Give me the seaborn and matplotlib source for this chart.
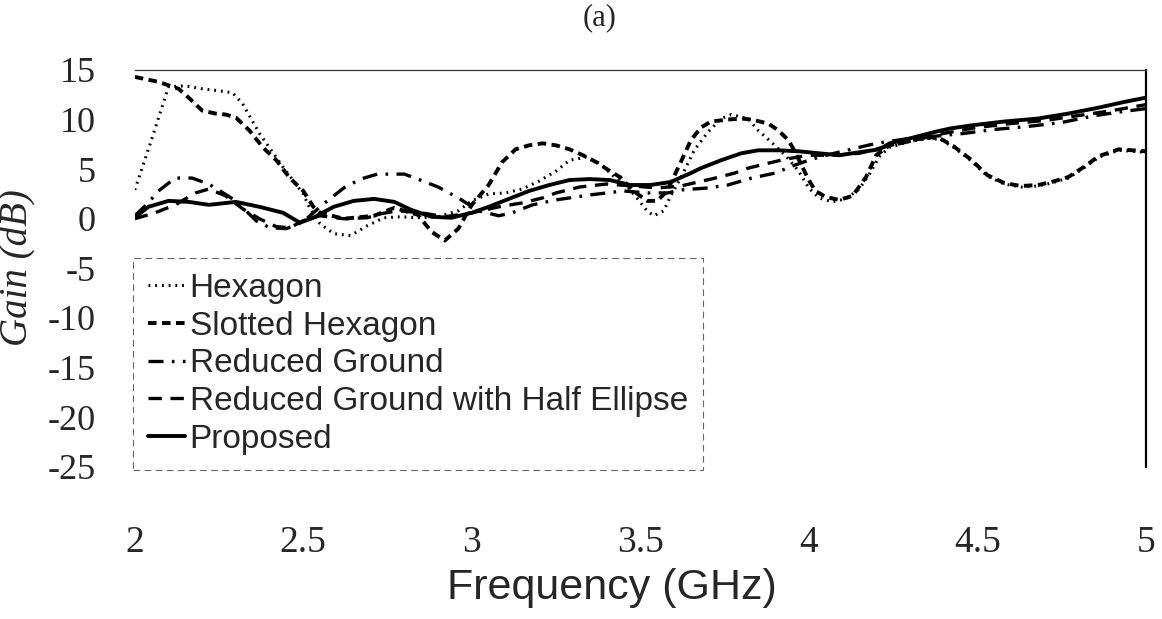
import matplotlib
matplotlib.use("Agg")
import matplotlib.pyplot as plt
import seaborn as sns
import pandas as pd

# Gain (dB) versus frequency (GHz) for the five antenna variants
hex_f = [2.00, 2.05, 2.10, 2.15, 2.20, 2.25, 2.29, 2.32, 2.37, 2.44, 2.50, 2.52, 2.55, 2.59,
         2.64, 2.69, 2.74, 2.79, 2.84, 2.90, 2.96, 3.00, 3.05, 3.10, 3.15, 3.20, 3.25, 3.29,
         3.34, 3.38, 3.42, 3.46, 3.49, 3.52, 3.54, 3.57, 3.59, 3.62, 3.66, 3.70, 3.74, 3.77,
         3.82, 3.85, 3.89, 3.93, 3.97, 4.00, 4.03, 4.07, 4.11, 4.15, 4.18, 4.21, 4.24, 4.30,
         4.36, 4.39, 4.43, 4.48, 4.53, 4.58, 4.63, 4.68, 4.72, 4.77, 4.82, 4.86, 4.92, 5.00]
hex_g = [2.9, 8.0, 13.3, 13.4, 13.1, 12.9, 12.7, 11.6, 8.6, 5.2, 2.5, 1.0, -0.5, -1.5,
         -1.7, -0.7, 0.1, 0.2, 0.1, 0.2, 0.8, 1.8, 2.5, 2.6, 3.0, 3.8, 4.8, 5.9,
         6.2, 5.6, 4.3, 3.3, 2.1, 0.8, 0.3, 0.8, 2.3, 4.1, 6.9, 8.7, 10.1, 10.5,
         10.1, 8.9, 7.7, 6.4, 4.8, 3.1, 2.1, 1.7, 2.0, 3.0, 4.5, 6.3, 7.2, 7.8,
         8.1, 8.0, 7.2, 5.9, 4.3, 3.5, 3.2, 3.3, 3.6, 4.1, 5.2, 6.2, 6.9, 6.7]

slot_f = [2.00, 2.07, 2.13, 2.16, 2.20, 2.24, 2.27, 2.30, 2.34, 2.38, 2.42, 2.46, 2.50, 2.53,
          2.55, 2.62, 2.71, 2.77, 2.84, 2.88, 2.92, 2.96, 3.00, 3.05, 3.09, 3.13, 3.17, 3.21,
          3.25, 3.29, 3.33, 3.37, 3.41, 3.44, 3.48, 3.52, 3.55, 3.58, 3.62, 3.65, 3.68, 3.71,
          3.76, 3.80, 3.83, 3.88, 3.91, 3.94, 3.96, 3.98, 4.00, 4.02, 4.05, 4.09, 4.13, 4.17,
          4.20, 4.24, 4.30, 4.36, 4.39, 4.43, 4.48, 4.53, 4.58, 4.63, 4.68, 4.72, 4.77, 4.82,
          4.86, 4.92, 5.00]
slot_g = [14.3, 13.8, 13.1, 12.2, 10.9, 10.6, 10.5, 10.2, 8.9, 7.2, 5.9, 4.1, 2.8, 1.2,
          0.6, 0.0, 0.3, 1.1, 0.4, -1.3, -2.2, -1.0, 1.4, 3.4, 5.7, 7.0, 7.4, 7.6,
          7.4, 7.0, 6.4, 5.7, 4.8, 4.2, 2.8, 1.8, 1.8, 2.8, 5.7, 7.9, 9.2, 9.8,
          10.0, 10.1, 10.0, 9.6, 8.9, 7.9, 6.7, 5.3, 3.9, 2.8, 2.2, 1.9, 2.3, 4.2,
          6.4, 7.4, 7.9, 8.2, 8.1, 7.3, 6.0, 4.4, 3.6, 3.3, 3.4, 3.7, 4.2, 5.3,
          6.3, 7.0, 6.8]

rg_f = [2.00, 2.04, 2.07, 2.12, 2.17, 2.22, 2.30, 2.36, 2.40, 2.45, 2.50, 2.56, 2.62, 2.67,
        2.72, 2.80, 2.84, 2.90, 2.96, 3.02, 3.08, 3.12, 3.18, 3.25, 3.35, 3.45, 3.52, 3.58,
        3.62, 3.70, 3.76, 3.83, 3.90, 3.95, 4.00, 4.04, 4.10, 4.15, 4.20, 4.30, 4.40, 4.46,
        4.55, 4.65, 4.75, 4.85, 4.93, 5.00]
rg_g = [0.3, 1.6, 2.8, 4.1, 4.1, 3.5, 1.8, -0.2, -0.9, -1.0, -0.3, 1.5, 3.1, 4.0,
        4.5, 4.5, 4.0, 3.2, 2.1, 0.8, 0.3, 0.6, 1.4, 1.9, 2.4, 2.8, 2.6, 2.6,
        2.9, 3.1, 3.4, 4.1, 4.6, 5.3, 5.9, 6.3, 6.8, 7.2, 7.6, 8.1, 8.4, 8.6,
        9.0, 9.3, 9.7, 10.4, 10.8, 11.1]

rghe_f = [2.00, 2.06, 2.12, 2.18, 2.22, 2.27, 2.32, 2.37, 2.42, 2.46, 2.50, 2.55, 2.62, 2.69,
          2.73, 2.78, 2.85, 2.92, 3.00, 3.08, 3.15, 3.21, 3.25, 3.32, 3.40, 3.48, 3.55, 3.62,
          3.71, 3.78, 3.82, 3.88, 3.93, 4.00, 4.08, 4.15, 4.22, 4.30, 4.40, 4.50, 4.60, 4.70,
          4.80, 4.90, 5.00]
rghe_g = [0.0, 0.6, 1.4, 2.6, 3.0, 2.3, 1.0, 0.0, -0.8, -0.9, -0.2, 0.3, 0.0, 0.1,
          0.5, 0.8, 0.6, 0.2, 0.6, 1.2, 1.6, 2.1, 2.6, 3.2, 3.5, 3.3, 3.1, 3.3,
          4.0, 4.6, 5.1, 5.6, 6.0, 6.4, 6.4, 6.6, 7.2, 7.8, 8.6, 9.2, 9.6, 9.9,
          10.4, 10.9, 11.5]

prop_f = [2.00, 2.04, 2.10, 2.16, 2.22, 2.30, 2.37, 2.44, 2.49, 2.53, 2.59, 2.65, 2.71, 2.77,
          2.82, 2.88, 2.94, 3.00, 3.05, 3.11, 3.17, 3.23, 3.29, 3.35, 3.41, 3.47, 3.53, 3.59,
          3.65, 3.68, 3.74, 3.80, 3.85, 3.91, 3.97, 4.03, 4.09, 4.15, 4.21, 4.24, 4.30, 4.38,
          4.42, 4.48, 4.58, 4.68, 4.77, 4.86, 4.94, 5.00]
prop_g = [0.1, 1.2, 1.8, 1.7, 1.4, 1.7, 1.2, 0.6, -0.4, 0.1, 1.2, 1.8, 2.0, 1.7,
          0.9, 0.2, 0.1, 0.6, 1.2, 2.0, 2.8, 3.4, 3.9, 4.0, 3.9, 3.4, 3.4, 3.7,
          4.6, 5.1, 5.9, 6.6, 6.9, 6.9, 6.8, 6.6, 6.4, 6.7, 7.0, 7.6, 8.1, 8.8,
          9.1, 9.4, 9.8, 10.1, 10.6, 11.2, 11.8, 12.2]

series_names = ["Hexagon", "Slotted Hexagon", "Reduced Ground",
                "Reduced Ground with Half Ellipse", "Proposed"]
y_ticks = [15, 10, 5, 0, -5, -10, -15, -20, -25]
x_ticks = [2, 2.5, 3, 3.5, 4, 4.5, 5]
x_tick_labels = ["2", "2.5", "3", "3.5", "4", "4.5", "5"]

sns.set_theme(style="white")
plt.rcParams["font.family"] = ["Liberation Serif", "DejaVu Serif"]
plt.rcParams["axes.unicode_minus"] = False

fig = plt.figure(figsize=(11.62, 6.19), dpi=100)
ax = fig.add_axes([0.116, 0.246, 0.870, 0.641])

curves = [
    (hex_f, hex_g, dict(linestyle=(0, (0.6, 1.6)), lw=2.2)),
    (slot_f, slot_g, dict(linestyle=(0, (2.2, 1.4)), lw=2.8)),
    (rg_f, rg_g, dict(linestyle=(0, (4.5, 2.5, 0.8, 2.5)), lw=2.4)),
    (rghe_f, rghe_g, dict(linestyle=(0, (4.0, 2.6)), lw=2.4)),
    (prop_f, prop_g, dict(linestyle="-", lw=2.8)),
]
for name, (f, g, style) in zip(series_names, curves):
    df = pd.DataFrame({"Frequency": f, "Gain": g})
    sns.lineplot(data=df, x="Frequency", y="Gain", ax=ax, color="black",
                 estimator=None, sort=False, label=name, **style)

ax.set_xlim(2, 5)
ax.set_ylim(-25, 15)
ax.set_yticks(y_ticks)
ax.set_yticklabels([str(v) for v in y_ticks], fontsize=26)
ax.set_xticks(x_ticks)
ax.set_xticklabels(x_tick_labels, fontsize=27)
ax.tick_params(axis="y", length=0, pad=28)
ax.tick_params(axis="x", length=0, pad=42)
ax.set_xlabel("")
ax.set_ylabel("")

for side in ["left", "bottom"]:
    ax.spines[side].set_visible(False)
ax.spines["top"].set_linewidth(0.9)
ax.spines["top"].set_color("#333333")
ax.spines["right"].set_linewidth(1.6)
ax.spines["right"].set_color("black")

leg = ax.legend(loc="upper left", bbox_to_anchor=(133 / 1162, 1 - 258 / 619),
                bbox_transform=fig.transFigure, frameon=True, fancybox=False,
                prop={"family": ["Liberation Sans"], "size": 24},
                handlelength=1.1, handletextpad=0.15, labelspacing=0.2,
                borderpad=0.45, borderaxespad=0)
frame = leg.get_frame()
frame.set_edgecolor("#666666")
frame.set_linewidth(0.8)
frame.set_linestyle((0, (6, 4)))
frame.set_facecolor("white")
frame.set_alpha(1)

fig.text(18 / 1162, 1 - 268 / 619, "Gain (dB)", rotation=90, ha="center", va="center",
         fontsize=28, style="italic", family=["Liberation Serif", "DejaVu Serif"])
fig.text(612 / 1162, 1 - 588 / 619, "Frequency (GHz)", ha="center", va="center",
         fontsize=31, family=["Liberation Sans", "DejaVu Sans"])
fig.text(600 / 1162, 1 - 3 / 619, "(a)", ha="center", va="top", fontsize=22,
         family=["Liberation Serif", "DejaVu Serif"])

fig.savefig("out.png", dpi=100, facecolor="white")
